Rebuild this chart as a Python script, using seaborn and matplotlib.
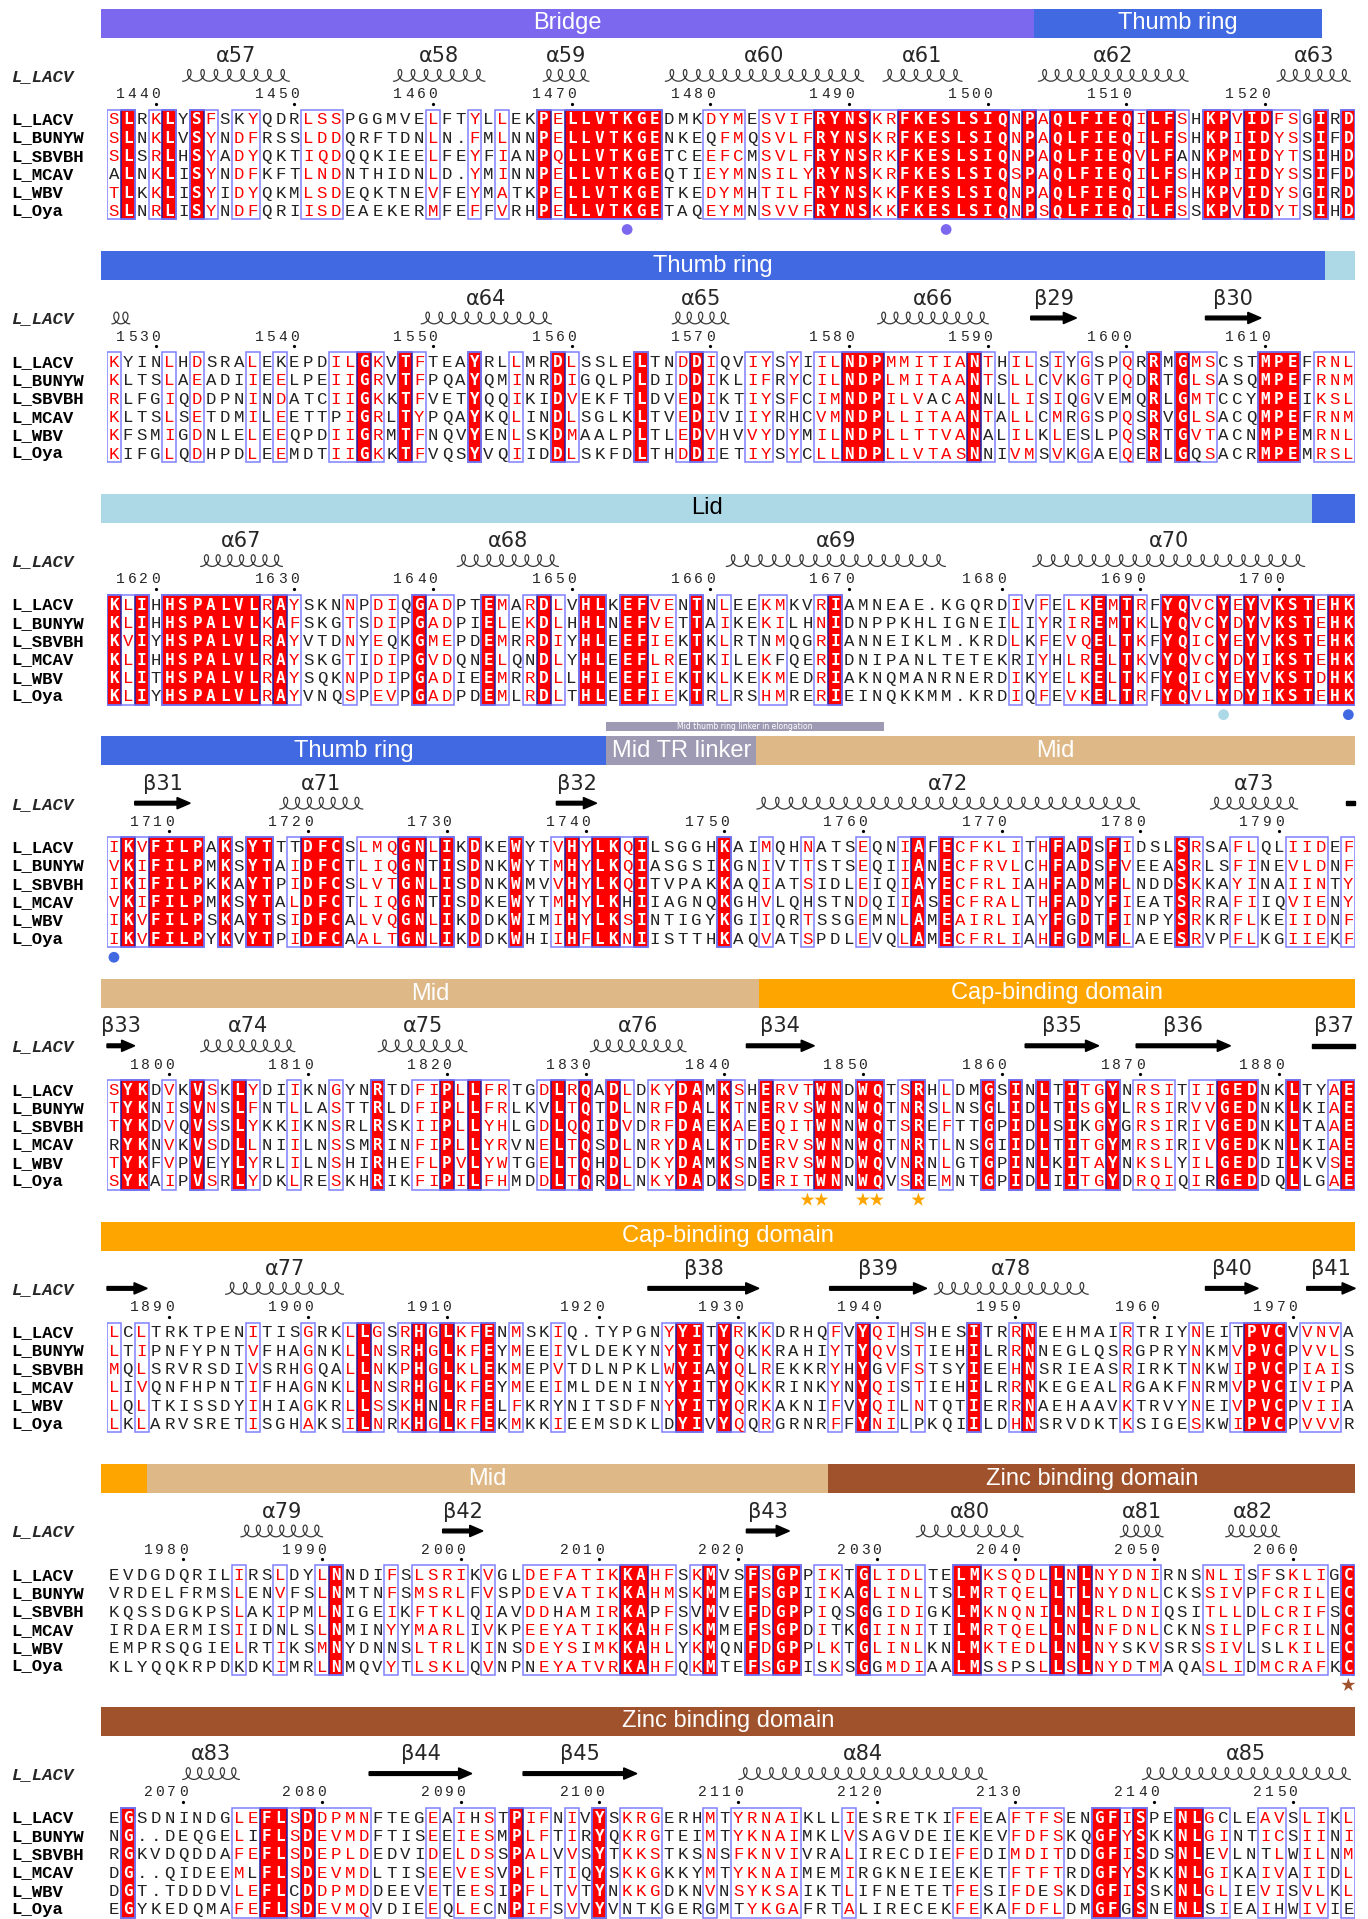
import numpy as np
import pandas as pd
import matplotlib
matplotlib.use("Agg")
import matplotlib.pyplot as plt
import seaborn as sns
from matplotlib.patches import Rectangle, FancyArrow
from matplotlib.colors import ListedColormap

# ---------------------------------------------------------------- data ----
NAMES = ["L_LACV", "L_BUNYW", "L_SBVBH", "L_MCAV", "L_WBV", "L_Oya"]
FIRST_RESIDUE = 1437   # L_LACV number of the first aligned residue

# Upper case = conserved / similar residue, lower case = not highlighted.
BLOCK_1 = [
    "SLrKLySFskYqdrLSSpggmveLftYlLekPELLVTKGEdmkDYMeSVIFRYNSKRFKESLSIQNPAQLFIEQILFShKPVIDFSgIrD",
    "SLnKLvSYnDFrssLDDqrftdnLn.FmLnnPELLVTKGEnkeqFMqSVLFRYNSKRFKESLSIQNPAQLFIEQILFShKPIIDYSsIfD",
    "SLsRLhSYaDYqktIQDqqkieeLfeYfIanPQLLVTKGEtceEFCmSVLFRYNSRKFKESLSIQNPAQLFIEQVLFanKPMIDYTsIhD",
    "aLnKLiSYnDFkftLNDnthidnLd.YmInnPELLVTKGEqtiEYMnSILYRYNSKRFKESLSIQSPAQLFIEQILFShKPIIDYSsIfD",
    "TLkKLiSYiDYqkmLSDeqktneVfeYmAtkPELLVTKGEtkeDYMhTILFRYNSKKFKESLSIQNPAQLFIEQILFShKPVIDYSgIrD",
    "SLnRLiSYnDFqriISDeaekerMfeFfVrhPELLVTKGEtaqEYMnSVVFRYNSKKFKESLSIQNPSQLFIEQILFSsKPVIDYTsIhD",
]
BLOCK_2 = [
    "KyinLhDsraLekepdILGKvTFteaYrlLmrDLssleLtnDDIqvIYsYiILNDPMMITIANThILsIyGspQrRmGMScstMPEfRNL",
    "KltsLaEadiIeElpeIIGRvTFpqaYqmInrDIgqlpLdiDDIklIFrYcILNDPLMITAANTsLLcVkGtpQdRtGLSasqMPEfRNM",
    "RlfgIqDdpnInDatcIIGKkTFvetYqqIkiDVekftLdvEDIktIYsFcIMNDPILVacANnlLIsIqGvemqRlGMTccyMPEiKSL",
    "KltsLsEtdmIlEettpIGRlTYpqaYkqLinDLsglkLtvEDIviIYrhcVMNDPLLITAANTaLLcMrGspQsRvGLSacqMPEfRNM",
    "KfsmIgDnleLeEqpdIIGRmTFnqvYenLskDMaalpLtlEDVhvVYdYmILNDPLLTTVANalILkLeslpQsRtGVTacnMPEmRNL",
    "KifgLqDhpdLeEmdtIIGKkTFvqsYvqIidDLskfdLthDDIetIYsYcLLNDPLLVTASNniVMsVkGaeQeRlGqSacrMPEmRSL",
]
BLOCK_3 = [
    "KLIhHSPALVLRAYsknNpDIqGADptEMaRDLvHLkEFVEnTnLeeKMkvRIamneae.kgqrdIvFeLKEMTRfYQVCYEYVKSTEHK",
    "KLIhHSPALVLKAFskgTsDIpGADpiELeKDLhHLnEFVEtTaIkeKIlhNIdnppkhligneiLiYrIREMTKlYQVCYDYVKSTEHK",
    "KVIyHSPALVLRAYvtdNyEqkGMEpdEMrRDIyHLeEFIEkTkLrtnMqgRIanneiklm.krdLkFeVQELTKfYQICYEYVKSTEHK",
    "KLIhHSPALVLRAYskgTiDIpGVDqnELqnDLyHLeEFLReTkIleKfqeRIdnipanltetekriYhLRELTKvYQVCYDYIKSTEHK",
    "KLItHSPALVLRAYsqkNpDIpGADieEMrRDLlHLeEFIEkTkLkeKMedRIaknqmanrnerdIkYeLKELTKfYQICYEYVKSTDHK",
    "KLIyHSPALVLRAYvnqSpEVpGADpdEMlRDLtHLeEFIEkTrLrsHMreRIeinqkkmm.krdIqFeVKELTRfYQVLYDYIKSTEHK",
]
BLOCK_4 = [
    "IKVFILPaKsYTttDFCsLMQGNLIkDkeWytVHYLKQIlsgghKaiMqhNatsEqnIAfECFKLItHFaDsFIdslSRsaFLqlIIDeF",
    "VKIFILPmKsYTaIDFCtLIQGNtIsDnkWytMHYLKQIasgsiKgnIvtTstsEqiIAnECFRVLcHFaDsFVeeaSRlsFIneVLDnF",
    "IKIFILPkKaYTpIDFCsLVTGNLIsDnkWmvVHYLKQItvpakKaqIatSidlEiqIAyECFRLIaHFaDmFLnddSKkaYInaIINtY",
    "VKIFILPmKsYTaLDFCtLIQGNtIsDkeWytMHYLKhIiagnqKghVlqhstnDqiIAsECFRALtHFaDyFIeatSRraFIiqVIEnY",
    "IKVFILPsKaYTsIDFCaLVQGNLIkDdkWimIHYLKSIntigyKgiIqrTssgEmnLAmEAIRLIaYFgDtFInpySRkrFLkeIIDnF",
    "IKVFILPyKvYTpIDFCaALTGNLIkDdkWhiIHFLKNIistthKaqVatSpdlEvqLAmECFRLIaHFgDmFLaeeSRvpFLkgIIEkF",
]
BLOCK_5 = [
    "SYKdVkVSkLYdiIknGynRtdFIPLLFRtgDLRQaDLdKYDAmKShERVTWNdWQtSRhLdmGsInLtITGYnRSItIIGEDnkLtyAE",
    "TYKnIsVNsLFntLlaSttRldFIPLLFRlkvLTQtDLnRFDAlKTnERVSWNnWQtNRsLnsGlIdLtISGYlRSIrVVGEDnkLkiAE",
    "TYKdVqVSsLYkkIknSrlRskIIPLLYHlgDLQQiDVdRFDAeKAeEQITWNnWQtSReFttGpIdLsIkGYgRSIrIVGEDnkLtaAE",
    "rYKnVkVSdLLniIlnSsmRinFIPLLYRvnELTQsDLnRYDAlKTdERVSWNnWQtNRtLnsGiIdLtITGYmRSIrIVGEDknLkiAE",
    "TYKfVpVeyLYrlIlnShiRheFLPVLYWtgELTQhDLdKYDAmKSnERVSWNdWQvNRnLgtGpInLkITAYnKSLyILGEDdiLkvSE",
    "SYKaIpVSrLYdkLreSkhRikFIPILFHmdDLTQrDLnKYDAdKSdERITWNnWQvSReMntGpIdLiITGYdRQIqIrGEDdqLlgAE",
]
BLOCK_6 = [
    "LcLtrktpenItisGrkLLGsRHGLKFEnMskIq.typgnYYItYRkKdrhqFvYQIhShesItrRNeehmaiRtriyNeitPVCvVNVa",
    "LtIpnfypntVfhaGnkLLNsRHGLKFEyMeeIvldekynYYItYQkKrahiYtYQVsTiehIlrRNneglqsRgpryNkmVPVCpVVLs",
    "MqLsrvrsdiVsrhGqaLLNkPHGLKLEkMepVtdlnpklWYIaYQlRekkrYhYgVfStsyIeeHNsrieasRirktNkwIPVCpIAIs",
    "LiVqnfhpntIfhaGnkLLNsRHGLKFEyMeeImldeninYYItYQkKrinkYnYQIsTiehIlrRNkegealRgakfNrmVPVCiVIpa",
    "LqLtkissdyIhiaGkrLLSsKHnLRFElFkrynitsdfnYYItYQrKakniFvYQIlNtqtIerRNaehaavKtrvyNeiVPVCpVIIa",
    "LkLarvsretIsghAksILNrKHGLKFEkMkkIeemsdkldYIvYQqRgrnrFfYNIlpkqiIldHNsrvdktKsigeSkwIPVCpVVVr",
]
BLOCK_7 = [
    "evdgdqrilIrsLdyLNndiFsLSRIkVglDEFATIKKAHFsKMvsFSGPpIKtGLIDLteLMKSQDLLNLNYDNIrnsNLIsFsKLIgC",
    "vrdelfrmsLenVfsLNmtnFsMSRLfVspDEvATIKKAHMsKMmeFSGPiIKaGLINLtsLMRTQELLTLNYDNLcksSIVpFCRILeC",
    "kqssdgkpsLakIpmLNigeIkFTKLqIavDDhAmIRKApFsvMveFDGPpIqsGgIDIgkLMKNQNILNLRLDNIqsiTLLdLCRIFsC",
    "irdaermisIidnlsLNminYyMARLiVkpEEYATIKKAHFsKMmeFSGPdItkGIINItiLMRTQELLNLNFDNLcknSILpFCRILnC",
    "emprsqgieLrtIksMNydnnsLTRLkInsDEYSiMKKAHLyKMqnFDGPpLKtGLINLknLMKTEDLLNLNYskVsrsSIVlslKILeC",
    "klyqqkrpdkdkImrLNmqvYtLSKLqVnpnEYATVRKAHFqKMteFSGPisKsGgMDIaaLMsSpsLLSLNYDtMaqaSLIdMCRAFkC",
]
BLOCK_8 = [
    "eGsdnindgLEFLSDDPMNftegEaIhStPIFnIvYsKRGerhMtYRNAIkllIesretkiFEeaFTFSenGFISpeNLGcleAVsLIkL",
    "nG..deqgeLiFLSDEVMDftisEeIESmPLFtIrYqKRGteiMtYKNAImklVsagvdeiekevFDFSkqGFYSkkNLGIntICsIInI",
    "rGkvdqddaFEFLSDEPLDedviDeLDSsPALvVsYtKKStksNsFKNVIvraLirecdieFEdiMDITddGFISdsNLeVlntLwILnM",
    "dG..qideeMlFLSDEVMDltisEeVESvPLFtIqYsKKGkkyMtYKNAImemIrgkneieeketFTFTrdGFYSkkNLGIkaIVaIIdL",
    "dGt.tdddvLEFLcDDPMDdeevEteESiPFLtVtYnKKGdknVnSYKSAiktLifnetetFEsiFDeSkdGFISskNLGLieVIsVLkL",
    "eGykedqmaFEFLSDEVMQvdieEqLEcnPIFsVvYvntkgergmtYKGAfrtAlirecekFEkaFDFLdmGFgSneNLsIeaIhwIVie",
]
BLOCKS = [BLOCK_1, BLOCK_2, BLOCK_3, BLOCK_4, BLOCK_5, BLOCK_6, BLOCK_7, BLOCK_8]

# domain annotation bars: (domain, first column, last column, show name)
DOMAINS_1 = [("Bridge", -0.4, 66.8, True), ("Thumb ring", 66.8, 87.6, True)]
DOMAINS_2 = [("Thumb ring", -0.4, 87.8, True), ("Lid", 87.8, 90.0, False)]
DOMAINS_3 = [("Lid", -0.4, 86.9, True), ("Thumb ring", 86.9, 90.0, False)]
DOMAINS_4 = [("Thumb ring", -0.4, 36.0, True), ("Mid TR linker", 36.0, 46.8, True),
             ("Mid", 46.8, 90.0, True)]
DOMAINS_5 = [("Mid", -0.4, 47.0, True), ("Cap-binding domain", 47.0, 90.0, True)]
DOMAINS_6 = [("Cap-binding domain", -0.4, 90.0, True)]
DOMAINS_7 = [("Cap-binding domain", -0.4, 2.9, False), ("Mid", 2.9, 52.0, True),
             ("Zinc binding domain", 52.0, 90.0, True)]
DOMAINS_8 = [("Zinc binding domain", -0.4, 90.0, True)]
DOMAINS = [DOMAINS_1, DOMAINS_2, DOMAINS_3, DOMAINS_4, DOMAINS_5, DOMAINS_6,
           DOMAINS_7, DOMAINS_8]
DOMAIN_COLORS = {"Bridge": "#7b68ee", "Thumb ring": "#4169e1", "Lid": "#add8e6",
                 "Mid TR linker": "#9e9ab4", "Mid": "#deb887",
                 "Cap-binding domain": "#ffa500", "Zinc binding domain": "#a0522d"}
LINKER_NOTE = ("Mid thumb ring linker in elongation", 3, 36.0, 56.0)

# secondary structure of L_LACV: (kind, name, start column, end column)
SS_1 = [("h", "α57", 5.1, 13.5), ("h", "α58", 20.3, 27.6), ("h", "α59", 31.1, 35.1),
        ("h", "α60", 39.9, 54.9), ("h", "α61", 55.6, 62.0), ("h", "α62", 66.8, 78.3),
        ("h", "α63", 84.0, 90.0)]
SS_2 = [("h", "", 0.0, 2.0), ("h", "α64", 22.3, 32.4), ("h", "α65", 40.4, 45.2),
        ("h", "α66", 55.2, 63.9), ("b", "β29", 66.6, 69.9), ("b", "β30", 79.2, 83.2)]
SS_3 = [("h", "α67", 6.4, 13.0), ("h", "α68", 24.9, 32.9), ("h", "α69", 44.3, 60.8),
        ("h", "α70", 66.4, 86.7)]
SS_4 = [("b", "β31", 2.0, 6.0), ("h", "α71", 12.1, 18.8), ("b", "β32", 32.4, 35.3),
        ("h", "α72", 46.5, 74.8), ("h", "α73", 79.2, 86.2), ("l", "", 89.3, 90.0)]
SS_5 = [("b", "β33", 0.0, 2.0), ("h", "α74", 6.4, 13.9), ("h", "α75", 19.2, 26.3),
        ("h", "α76", 34.5, 42.1), ("b", "β34", 46.1, 51.0), ("b", "β35", 66.2, 71.5),
        ("b", "β36", 74.2, 81.0), ("l", "β37", 86.9, 90.0)]
SS_6 = [("b", "", 0.0, 2.9), ("h", "α77", 8.2, 17.4), ("b", "β38", 39.0, 47.0),
        ("b", "β39", 52.1, 59.1), ("h", "α78", 59.3, 71.1), ("b", "β40", 79.2, 83.0),
        ("b", "β41", 86.5, 90.0)]
SS_7 = [("h", "α79", 9.3, 15.9), ("b", "β42", 24.2, 27.1), ("b", "β43", 46.1, 49.2),
        ("h", "α80", 58.0, 66.4), ("h", "α81", 72.7, 76.5), ("h", "α82", 80.3, 84.9)]
SS_8 = [("h", "α83", 5.1, 9.9), ("b", "β44", 18.9, 26.3), ("b", "β45", 30.0, 38.2),
        ("h", "α84", 45.2, 63.8), ("h", "α85", 74.3, 90.0)]
SS = [SS_1, SS_2, SS_3, SS_4, SS_5, SS_6, SS_7, SS_8]

# functional residue markers under the alignment: (column, marker, domain colour)
MARKS = {0: [(37, "o", "#7b68ee"), (60, "o", "#7b68ee")],
         2: [(80, "o", "#add8e6"), (89, "o", "#4169e1")],
         3: [(0, "o", "#4169e1")],
         4: [(50, "*", "#ffa500"), (51, "*", "#ffa500"), (54, "*", "#ffa500"),
             (55, "*", "#ffa500"), (58, "*", "#ffa500")],
         6: [(89, "*", "#a0522d")]}

# -------------------------------------------------------------- layout ----
W, H = 1368, 1919
NCOL = 90
LEFT_PX, COL_PX = 107.0, 13.87
BLOCK_PX, FIRST_TOP = 242.6, 8.6
ROW_PX, SEQ_TOP = 18.3, 101.0
BAR_PX = 29.0

RED = "#ff0000"
FRAME = "#8080ff"
NAVY = "#1c1ca8"
TXT = "#222222"

sns.set_style("white")
plt.rcParams["font.family"] = ["DejaVu Sans"]

fig = plt.figure(figsize=(W / 100, H / 100), dpi=100)
fig.patch.set_facecolor("white")

y_top = -SEQ_TOP / ROW_PX
y_bot = (BLOCK_PX - SEQ_TOP) / ROW_PX
name_x = (11 - LEFT_PX) / COL_PX


def draw_helix(ax, x0, x1, y):
    n = max(1, int(round(x1 - x0)))
    t = np.linspace(0, 2 * np.pi * n, 90 * n)
    a = (x1 - x0 - 0.7) / (2 * np.pi * n)
    xs = x0 + 0.35 + a * t + 0.33 * np.sin(t)
    ys = y + 0.32 * np.cos(t)
    ax.plot(xs, ys, color="#3a3a3a", lw=0.9, clip_on=False, solid_capstyle="round")


def draw_strand(ax, x0, x1, y, head=True):
    if head:
        arr = FancyArrow(x0, y, x1 - x0, 0, width=0.2, head_width=0.62,
                         head_length=0.95, length_includes_head=True,
                         color="black", clip_on=False)
    else:
        arr = Rectangle((x0, y - 0.1), x1 - x0, 0.2, color="black", clip_on=False)
    ax.add_patch(arr)


def runs(mask):
    out, j = [], 0
    while j < len(mask):
        if mask[j]:
            k = j
            while k + 1 < len(mask) and mask[k + 1]:
                k += 1
            out.append((j, k + 1))
            j = k + 1
        else:
            j += 1
    return out


resnum = FIRST_RESIDUE - 1
for b, rows in enumerate(BLOCKS):
    rows = [r[:NCOL].ljust(NCOL, ".") for r in rows]
    top_px = FIRST_TOP + b * BLOCK_PX
    ax = fig.add_axes([LEFT_PX / W, 1 - (top_px + BLOCK_PX) / H,
                       NCOL * COL_PX / W, BLOCK_PX / H])
    grid = np.array([list(r) for r in rows])
    upper = np.char.isupper(grid)
    ident = (np.char.upper(grid) == np.char.upper(grid[0])).all(axis=0) & upper.all(axis=0)
    marked = upper.any(axis=0)

    fill = pd.DataFrame(np.tile(ident.astype(int), (len(NAMES), 1)),
                        index=NAMES, columns=range(NCOL))
    sns.heatmap(fill, ax=ax, cmap=ListedColormap(["white", RED]), vmin=0, vmax=1,
                cbar=False, xticklabels=False, yticklabels=False, linewidths=0)
    ax.set_xlim(0, NCOL)
    ax.set_ylim(y_bot, y_top)
    ax.axis("off")

    # frames around runs of similar columns, darker edges on identical runs
    for j0, j1 in runs(ident):
        ax.add_patch(Rectangle((j0, 0), j1 - j0, len(NAMES), fill=False,
                               edgecolor=NAVY, lw=1.1, zorder=3))
    for j0, j1 in runs(marked):
        ax.add_patch(Rectangle((j0, 0), j1 - j0, len(NAMES), fill=False,
                               edgecolor=FRAME, lw=1.1, zorder=4))

    # residues
    for i, r in enumerate(rows):
        for j, ch in enumerate(r):
            if ident[j]:
                ax.text(j + 0.5, i + 0.5 + 0.31, ch.upper(), ha="center", va="baseline",
                        fontsize=11.5, fontweight="bold", family="DejaVu Sans Mono",
                        color="white", zorder=5)
            else:
                ax.text(j + 0.5, i + 0.5 + 0.31, ch.upper(), ha="center", va="baseline",
                        fontsize=12.5, family="Liberation Mono",
                        color=RED if ch.isupper() else TXT, zorder=5)

    # sequence names
    for i, nm in enumerate(NAMES):
        ax.text(name_x, i + 0.5 + 0.3, nm, ha="left", va="baseline", fontsize=12.5,
                fontweight="bold", family="Liberation Mono", color="black", clip_on=False)

    # domain bars
    bar_y = y_top
    bar_h = BAR_PX / ROW_PX
    for dom, x0, x1, show in DOMAINS[b]:
        ax.add_patch(Rectangle((x0, bar_y), x1 - x0, bar_h, color=DOMAIN_COLORS[dom],
                               lw=0, clip_on=False, zorder=2))
        if show:
            ax.text((x0 + x1) / 2, bar_y + bar_h / 2, dom, ha="center", va="center",
                    fontsize=17, family="Liberation Sans",
                    color="black" if dom == "Lid" else "white", clip_on=False, zorder=3)
    if b == LINKER_NOTE[1]:
        _, _, x0, x1 = LINKER_NOTE
        ax.add_patch(Rectangle((x0, bar_y - 14 / ROW_PX), x1 - x0, 9 / ROW_PX,
                               color=DOMAIN_COLORS["Mid TR linker"], lw=0, clip_on=False))
        ax.text((x0 + x1) / 2, bar_y - 9.5 / ROW_PX, LINKER_NOTE[0], ha="center",
                va="center", fontsize=5.5, color="white", clip_on=False)

    # secondary structure
    ss_y = -1.87
    ax.text(name_x, ss_y + 0.3, "L_LACV", ha="left", va="baseline", fontsize=12.5,
            fontweight="bold", style="italic", family="Liberation Mono", clip_on=False)
    for kind, name, x0, x1 in SS[b]:
        if kind == "h":
            draw_helix(ax, x0, x1, ss_y)
        else:
            draw_strand(ax, x0, x1, ss_y, head=(kind == "b"))
        if name:
            ax.text((x0 + x1) / 2, -2.93, name, ha="center", va="center", fontsize=15,
                    family="DejaVu Sans", clip_on=False)

    # residue numbering of L_LACV
    for j, ch in enumerate(rows[0]):
        if ch == ".":
            continue
        resnum += 1
        if resnum % 10 == 0:
            for k, d in enumerate(reversed(str(resnum))):
                ax.text(j + 0.5 - 0.85 * k, -0.62, d, ha="center", va="baseline",
                        fontsize=10.5, family="Liberation Mono", clip_on=False)
            ax.plot([j + 0.5], [-0.33], marker="o", ms=1.3, color="black", clip_on=False)

    # functional residue markers
    if b in MARKS:
        mk = pd.DataFrame(MARKS[b], columns=["col", "marker", "color"])
        for _, m in mk.iterrows():
            sns.scatterplot(x=[m["col"] + 0.5], y=[6.55], ax=ax, marker=m["marker"],
                            s=60 if m["marker"] == "o" else 110, color=m["color"],
                            edgecolor="none", legend=False, clip_on=False)
    ax.set_xlim(0, NCOL)
    ax.set_ylim(y_bot, y_top)

fig.savefig("out.png", dpi=100, facecolor="white")
